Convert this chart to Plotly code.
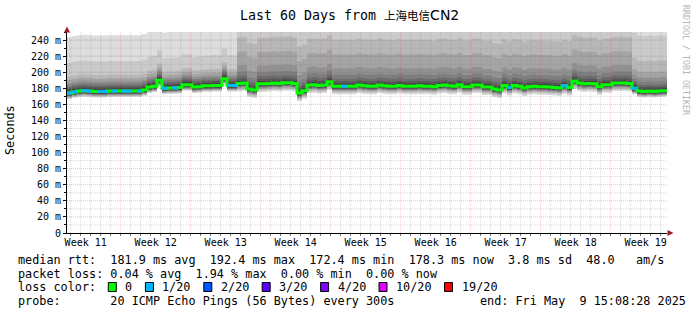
import pandas as pd
import plotly.graph_objects as go

# ---------------- canvas geometry (pixels) ----------------
W, H = 697, 315
ML, MR, MT, MB = 67, 30, 32, 82
PW, PH = W - ML - MR, H - MT - MB


def paper_x(px):
    return (px - ML) / PW


def paper_y(py):
    return (H - MB - py) / PH


# ---------------- data ----------------
TITLE_PREFIX = "Last 60 Days from "
TARGET_CJK = "上海电信"
TARGET_LATIN = "CN2"
START = "2025-03-10 15:08:28"
END = "2025-05-09 15:08:28"

# median RTT (ms), one value per 12 h slot
median_rtt = [
    174, 175.5, 176.5, 177, 176.5, 176, 176, 176, 176.5, 176.5,
    176.5, 176.5, 176.5, 176.5, 176.5, 178, 181.5, 182.5, 190, 180,
    180.5, 180.5, 181, 184.5, 184.5, 181.5, 182, 183, 183, 183.5,
    183.5, 192, 183.5, 183.5, 186, 186.5, 179, 178, 185.5, 185.5,
    186, 186.5, 186, 187, 187, 186, 174, 177, 184, 184.5,
    183.5, 184, 188, 182.5, 182.5, 182.5, 182.5, 182.5, 184, 183,
    182.5, 182.5, 184, 183, 182.5, 182.5, 183.5, 182.5, 182.5, 182.5,
    183, 182.5, 182.5, 182, 183.5, 184, 183, 182.5, 184.5, 182,
    182, 184, 184, 181.5, 181.5, 179, 178, 183.5, 181, 183.5,
    182.5, 180.5, 182, 182.5, 182, 182, 181.5, 181, 180.5, 183,
    181, 189, 186.5, 185.5, 186, 185.5, 182, 184.5, 184.5, 186.5,
    186.5, 186.5, 186, 180, 176.5, 176, 176.5, 176, 176.5, 177,
]

# slots where the median shows 1/20 loss
loss_slots_1_20 = [0, 1, 3, 4, 6, 7, 9, 11, 12, 14, 19, 21, 32, 33, 55, 88, 99, 113]

# smoke: 20 sorted pings relative to the median, per regime
regime_start_slot = [0, 34, 113]
ping_offsets_a = [-7.5, -6.5, -5.8, -5.2, -4.6, -4.0, -3.5, -3.0, -2.5, -0.5,
                  1.5, 3.5, 5.5, 7.5, 10, 12.5, 16, 20.5, 37.5, 69.5]
ping_offsets_b = [-10, -8.5, -7, -6, -5, -4.3, -3.6, -3, -2.4, -0.5,
                  1.5, 3.5, 6, 9.5, 14.5, 22.5, 39.5, 57.5, 82, 150]
ping_offsets_c = [-7.5, -6.5, -5.8, -5.2, -4.6, -4.0, -3.5, -3.0, -2.5, -0.5,
                  2, 3.5, 5.5, 8, 12, 17, 24, 38, 69, 80]
regime_ping_offsets = [ping_offsets_a, ping_offsets_b, ping_offsets_c]

smoke_colors = ["#dddddd", "#cacaca", "#b7b7b7", "#a4a4a4", "#919191",
                "#7e7e7e", "#6b6b6b", "#585858", "#454545", "#323232"]

loss_labels = ["0", "1/20", "2/20", "3/20", "4/20", "10/20", "19/20"]
loss_colors = ["#00ff00", "#00b8ff", "#0059ff", "#5e00ff", "#7e00ff", "#dd00ff", "#ff0000"]

y_tick_values = list(range(0, 241, 20))
y_tick_text = ["0"] + [f"{v} m" for v in range(20, 241, 20)]
week_numbers = [11, 12, 13, 14, 15, 16, 17, 18, 19]
first_week_sunday = "2025-03-09"

rtt_stats = [181.9, 192.4, 172.4, 178.3, 3.8]
am_s = 48.0
loss_stats = [0.04, 1.94, 0.00, 0.00]
probe_text = "20 ICMP Echo Pings (56 Bytes) every 300s"
end_text = "end: Fri May  9 15:08:28 2025"

# ---------------- build figure ----------------
MONO = "DejaVu Sans Mono"
times = pd.date_range(START, periods=len(median_rtt) + 1, freq="12h")
m_ext = median_rtt + [median_rtt[-1]]


def regime_of(i):
    r = 0
    for k, s in enumerate(regime_start_slot):
        if i >= s:
            r = k
    return r


reg = [regime_of(i) for i in range(len(m_ext))]

fig = go.Figure()
for b in range(10):
    lo = [m_ext[i] + regime_ping_offsets[reg[i]][b] for i in range(len(m_ext))]
    hi = [m_ext[i] + regime_ping_offsets[reg[i]][19 - b] for i in range(len(m_ext))]
    fig.add_trace(go.Scatter(x=times, y=lo, mode="lines",
                             line=dict(width=0, shape="hv"),
                             hoverinfo="skip", showlegend=False))
    fig.add_trace(go.Scatter(x=times, y=hi, mode="lines",
                             line=dict(width=0, shape="hv"),
                             fill="tonexty", fillcolor=smoke_colors[b],
                             hoverinfo="skip", showlegend=False))

fig.add_trace(go.Scatter(x=times, y=m_ext, mode="lines",
                         line=dict(color=loss_colors[0], width=3, shape="hv"),
                         hoverinfo="skip", showlegend=False))
seg_x, seg_y = [], []
for s in loss_slots_1_20:
    seg_x += [times[s], times[s + 1], None]
    seg_y += [median_rtt[s], median_rtt[s], None]
fig.add_trace(go.Scatter(x=seg_x, y=seg_y, mode="lines",
                         line=dict(color=loss_colors[1], width=3),
                         hoverinfo="skip", showlegend=False))

# ---------------- grid (drawn on top like rrdtool) ----------------
shapes = []
MAJ_V = "rgba(220,30,30,0.24)"
MAJ_H = "rgba(220,30,30,0.32)"
MIN = "rgba(130,130,130,0.30)"
days = pd.date_range("2025-03-11", "2025-05-09", freq="D")
for d in days:
    major = d.dayofweek == 6
    shapes.append(dict(type="line", xref="x", yref="paper", x0=d, x1=d, y0=0, y1=1,
                       layer="above",
                       line=dict(color=MAJ_V if major else MIN, width=1, dash="1px,1px")))
for v in range(10, 250, 10):
    major = v % 20 == 0
    shapes.append(dict(type="line", xref="paper", yref="y", x0=0, x1=1, y0=v, y1=v,
                       layer="above",
                       line=dict(color=MAJ_H if major else MIN, width=1, dash="1px,1px")))

# axis arrows
ARROW = "#9b1c1c"
shapes.append(dict(type="path", xref="paper", yref="paper", layer="above",
                   path=f"M {paper_x(64)},{paper_y(32.5)} L {paper_x(70)},{paper_y(32.5)} "
                        f"L {paper_x(67)},{paper_y(26.5)} Z",
                   fillcolor=ARROW, line=dict(width=0)))
shapes.append(dict(type="path", xref="paper", yref="paper", layer="above",
                   path=f"M {paper_x(667.5)},{paper_y(230)} L {paper_x(667.5)},{paper_y(236)} "
                        f"L {paper_x(673.5)},{paper_y(233)} Z",
                   fillcolor=ARROW, line=dict(width=0)))

# x labels at mid-week
sunday0 = pd.Timestamp(first_week_sunday)
week_mid = [sunday0 + pd.Timedelta(days=7 * k + 3.5) for k in range(len(week_numbers))]
week_text = [f"Week {n}" for n in week_numbers]

# ---------------- texts ----------------
NB = "\u00a0"
ann = []


def text(px, py, s, size, color="#000000", xanchor="left", angle=0, family=MONO):
    ann.append(dict(x=paper_x(px), y=paper_y(py), xref="paper", yref="paper",
                    text=s.replace(" ", NB), showarrow=False, xanchor=xanchor,
                    yanchor="middle", textangle=angle,
                    font=dict(family=family, size=size, color=color)))


title_html = (TITLE_PREFIX.replace(" ", NB)
              + f"<span style=\"font-family:Noto Sans CJK SC;font-size:11.5px\">{TARGET_CJK}</span>"
              + f"<span style=\"font-family:DejaVu Sans;font-size:14px\">{TARGET_LATIN}</span>")
ann.append(dict(x=paper_x(238), y=paper_y(15), xref="paper", yref="paper", text=title_html,
                showarrow=False, xanchor="left", yanchor="middle",
                font=dict(family=MONO, size=13.3, color="#000000")))

text(10, 130, "Seconds", 11.8, angle=-90, xanchor="center")
text(686, 60, "RRDTOOL / TOBI OETIKER", 8.3, color="#b4b4b4", angle=90, xanchor="center")

LEG = 11.8
line1 = (f"median rtt:  {rtt_stats[0]:.1f} ms avg  {rtt_stats[1]:.1f} ms max  "
         f"{rtt_stats[2]:.1f} ms min  {rtt_stats[3]:.1f} ms now  {rtt_stats[4]:.1f} ms sd  "
         f"{am_s:.1f}   am/s")
line2 = (f"packet loss: {loss_stats[0]:.2f} % avg  {loss_stats[1]:.2f} % max  "
         f"{loss_stats[2]:.2f} % min  {loss_stats[3]:.2f} % now")
text(16, 260, line1, LEG)
text(16, 273.5, line2, LEG)
text(16, 287, "loss color:", LEG)
text(16, 301, "probe:       " + probe_text, LEG)
text(478.3, 301, end_text, LEG)

CW = 7.1
bx = 108.3
for lab, col in zip(loss_labels, loss_colors):
    shapes.append(dict(type="rect", xref="paper", yref="paper",
                       x0=paper_x(bx), x1=paper_x(bx + 8), y0=paper_y(291.5), y1=paper_y(282.5),
                       fillcolor=col, line=dict(color="#000000", width=1), layer="above"))
    text(bx + 15, 287, lab, LEG)
    bx = bx + 15 + len(lab) * CW + 15

fig.update_layout(
    width=W, height=H, autosize=False,
    margin=dict(l=ML, r=MR, t=MT, b=MB, pad=0),
    paper_bgcolor="#ffffff", plot_bgcolor="#ffffff",
    showlegend=False,
    shapes=shapes, annotations=ann,
    xaxis=dict(type="date", range=[START, END], tickmode="array",
               tickvals=week_mid, ticktext=week_text, ticks="",
               showgrid=False, zeroline=False, showline=True,
               linecolor="#000000", linewidth=1,
               tickfont=dict(family=MONO, size=10, color="#000000"),
               minor=dict(ticks="outside", ticklen=2, dtick=86400000,
                          tick0="2025-03-11", tickcolor="#777777", showgrid=False)),
    yaxis=dict(range=[0, 250], tickmode="array", tickvals=y_tick_values,
               ticktext=y_tick_text, ticks="outside", ticklen=3, tickcolor="#000000",
               showgrid=False, zeroline=False, showline=True,
               linecolor="#000000", linewidth=1,
               tickfont=dict(family=MONO, size=10, color="#000000"),
               minor=dict(ticks="outside", ticklen=2, dtick=10, tick0=0,
                          tickcolor="#000000", showgrid=False)),
)

fig.write_html("out.html")
